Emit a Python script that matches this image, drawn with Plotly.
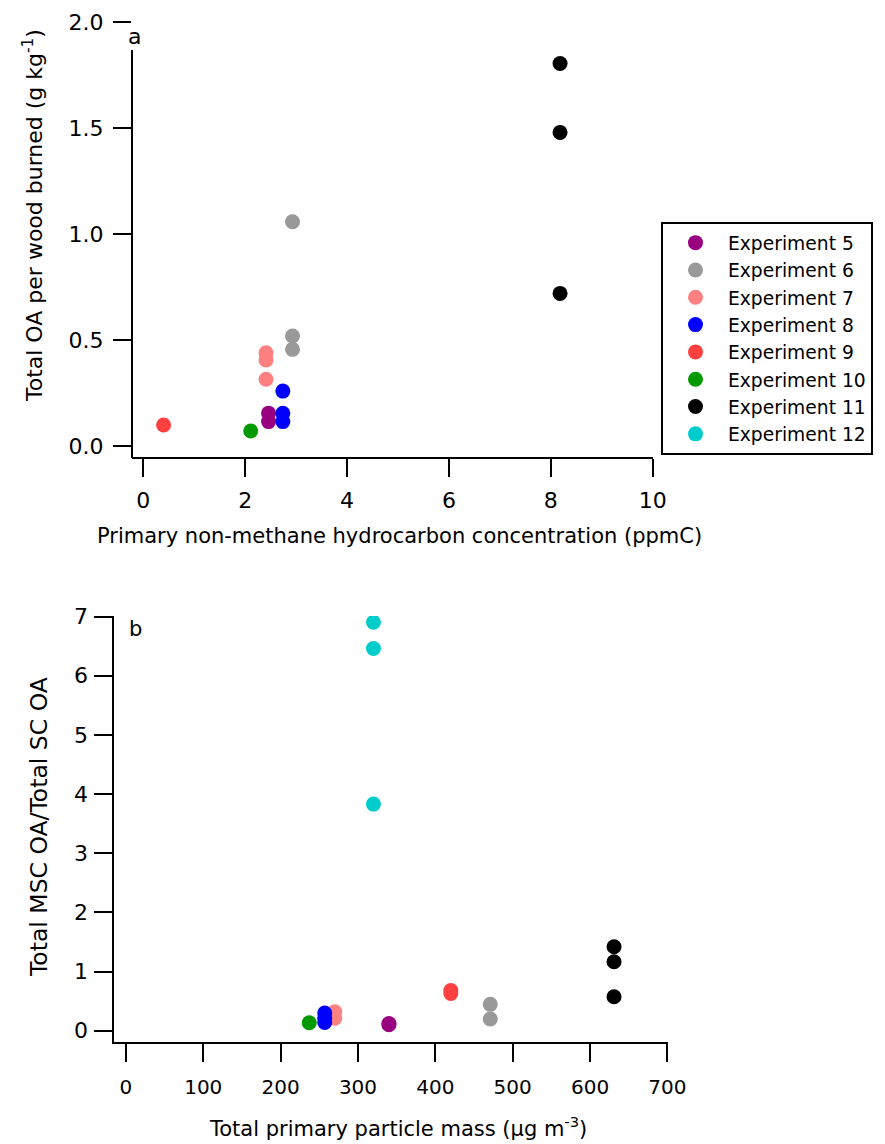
import plotly.graph_objects as go

# ---------------- data ----------------
experiments = ["Experiment 5", "Experiment 6", "Experiment 7", "Experiment 8",
               "Experiment 9", "Experiment 10", "Experiment 11", "Experiment 12"]
colors = ["#990080", "#999999", "#ff8080", "#0000ff",
          "#ff4040", "#009900", "#000000", "#00cccc"]

# panel a: primary NMHC (ppmC) vs total OA per wood burned (g/kg)
a_x = [[2.46, 2.46], [2.93, 2.93, 2.93], [2.41, 2.41, 2.41], [2.74, 2.74, 2.74],
       [0.40], [2.11], [8.18, 8.18, 8.18], []]
a_y = [[0.155, 0.115], [1.058, 0.519, 0.456], [0.44, 0.406, 0.315], [0.259, 0.154, 0.115],
       [0.099], [0.071], [1.805, 1.480, 0.720], []]

# panel b: total primary particle mass (ug/m3) vs MSC OA / SC OA
b_x = [[340, 340], [471, 471], [270, 270], [257, 257, 257],
       [420, 420], [237], [631, 631, 631], [320, 320, 320]]
b_y = [[0.12, 0.10], [0.445, 0.197], [0.32, 0.21], [0.30, 0.21, 0.14],
       [0.68, 0.63], [0.135], [1.418, 1.165, 0.574], [6.905, 6.46, 3.83]]

a_xticks = [0, 2, 4, 6, 8, 10]
a_yticks = [0.0, 0.5, 1.0, 1.5, 2.0]
a_yticklabels = ["0.0", "0.5", "1.0", "1.5", "2.0"]
b_xticks = [0, 100, 200, 300, 400, 500, 600, 700]
b_yticks = [0, 1, 2, 3, 4, 5, 6, 7]

W, H = 885, 1144
FONT = "DejaVu Sans"

fig = go.Figure()
for i, name in enumerate(experiments):
    fig.add_trace(go.Scatter(x=a_x[i], y=a_y[i], mode="markers", name=name,
                             marker=dict(color=colors[i], size=15),
                             xaxis="x", yaxis="y", showlegend=False,
                             legendgroup=name))
for i, name in enumerate(experiments):
    fig.add_trace(go.Scatter(x=b_x[i], y=b_y[i], mode="markers", name=name,
                             marker=dict(color=colors[i], size=15),
                             xaxis="x2", yaxis="y2", showlegend=True,
                             legendgroup=name))

axis_common = dict(showgrid=False, zeroline=False, ticks="outside",
                   tickwidth=2, tickcolor="black", linecolor="black",
                   linewidth=2, color="black", ticklen=18)


def ann(text, x, y, size, angle=0):
    return dict(text=text, x=x / W, y=1 - y / H, xref="paper", yref="paper",
                xanchor="center", yanchor="middle", showarrow=False,
                textangle=angle, font=dict(size=size, family=FONT, color="black"))


fig.update_layout(
    width=W, height=H,
    margin=dict(l=0, r=0, t=0, b=0, autoexpand=False),
    paper_bgcolor="white", plot_bgcolor="white",
    font=dict(family=FONT, color="black", size=20),
    xaxis=dict(domain=[132 / W, 653.3 / W], range=[-0.22, 10.01],
               tickvals=a_xticks, showline=True, anchor="y",
               tickfont=dict(size=22), ticklabelstandoff=5, **axis_common),
    yaxis=dict(domain=[1 - 457 / H, 1 - 22 / H], range=[-0.052, 2.001],
               tickvals=a_yticks, ticktext=a_yticklabels,
               showline=False, anchor="x", tickfont=dict(size=22),
               ticklabelstandoff=5, **axis_common),
    xaxis2=dict(domain=[114.3 / W, 667.8 / W], range=[-15, 700.5],
                tickvals=b_xticks, showline=True, anchor="y2",
                tickfont=dict(size=20), ticklabelstandoff=8, **axis_common),
    yaxis2=dict(domain=[1 - 1041.5 / H, 1 - 616 / H], range=[-0.183, 7.01],
                tickvals=b_yticks, showline=True, anchor="x2",
                tickfont=dict(size=22), ticklabelstandoff=2, **axis_common),
    legend=dict(x=661 / W, y=1 - 222 / H, xanchor="left", yanchor="top",
                bordercolor="black", borderwidth=2, bgcolor="white",
                font=dict(family=FONT, size=18.7), itemwidth=55,
                tracegroupgap=0, entrywidth=240, entrywidthmode="pixels"),
    shapes=[dict(type="line", xref="paper", yref="paper",
                 x0=132 / W, x1=132 / W, y0=1 - 458 / H, y1=1 - 50 / H,
                 line=dict(color="black", width=2))],
    annotations=[
        ann("a", 134.5, 37, 22),
        ann("b", 135, 629, 21),
        ann("Total OA per wood burned (g kg<sup>-1</sup>)", 33, 216, 22, -90),
        ann("Primary non-methane hydrocarbon concentration (ppmC)", 399, 536, 21),
        ann("Total MSC OA/Total SC OA", 39, 827, 23.5, -90),
        ann("Total primary particle mass (µg m<sup>-3</sup>)", 398, 1127, 21),
    ],
)

fig.write_html("out.html")
